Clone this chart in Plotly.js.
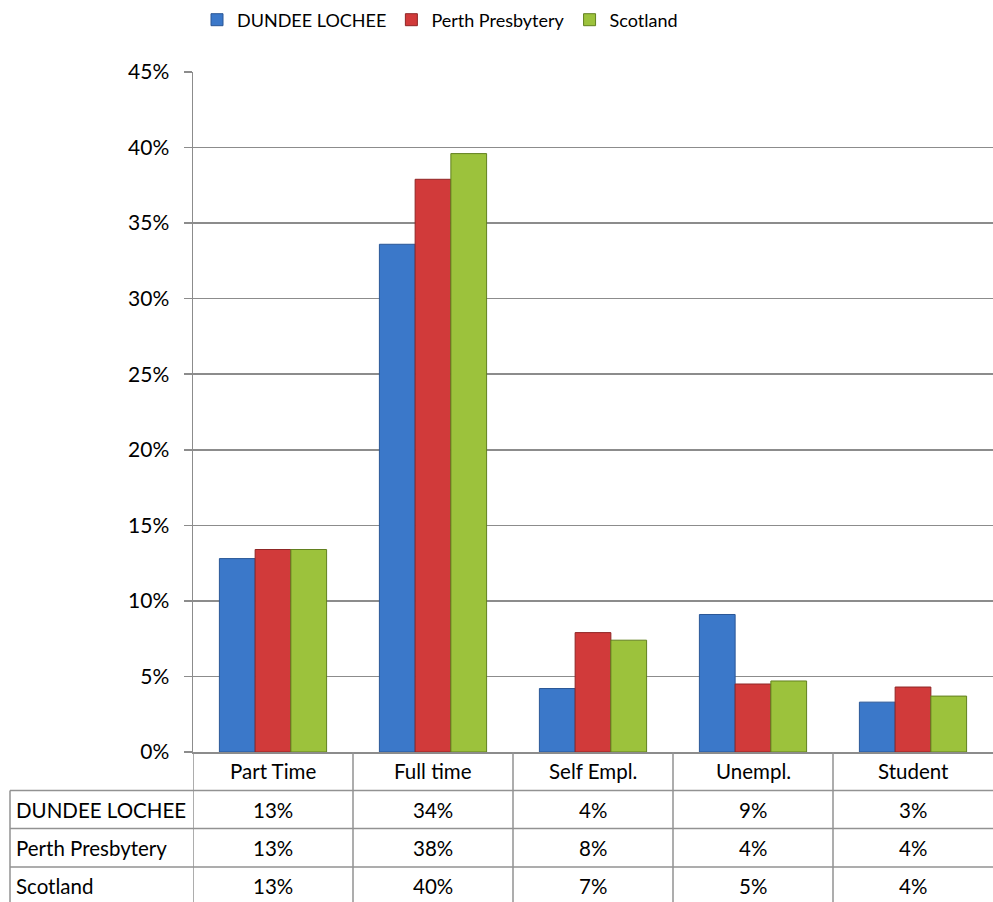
<!DOCTYPE html>
<html>
<head>
<meta charset="utf-8">
<script src="https://cdn.plot.ly/plotly-3.0.1.min.js"></script>
<style>html,body{margin:0;padding:0;background:#fff;}#chart{width:993px;height:902px;}</style>
</head>
<body>
<div id="chart"></div>
<script>
// ---- data ----
var categories = ["Part Time", "Full time", "Self Empl.", "Unempl.", "Student"];
var seriesNames = ["DUNDEE LOCHEE", "Perth Presbytery", "Scotland"];
var dundee = [12.8, 33.6, 4.2, 9.1, 3.3];
var perth = [13.4, 37.9, 7.9, 4.5, 4.3];
var scotland = [13.4, 39.6, 7.4, 4.7, 3.7];
var dundeeLabels = ["13%", "34%", "4%", "9%", "3%"];
var perthLabels = ["13%", "38%", "8%", "4%", "4%"];
var scotlandLabels = ["13%", "40%", "7%", "5%", "4%"];
var yTickVals = [0, 5, 10, 15, 20, 25, 30, 35, 40, 45];
var yTickText = ["0%", "5%", "10%", "15%", "20%", "25%", "30%", "35%", "40%", "45%"];

// ---- styling ----
var FONT = "Lato, 'Open Sans', sans-serif";
var TFS = 20.5;
var fillColors = ["#3b78c9", "#d13a3a", "#9cc23c"];
var edgeColors = ["#2a5796", "#8f2626", "#62801f"];
var gridColor = "#8c8c8c";
var W = 993, H = 902, ML = 193, MT = 72, MB = 150;
var plotH = H - MT - MB, plotW = W - ML;
function py(pix) { return (H - MB - pix) / plotH; }
function pxp(pix) { return (pix - ML) / plotW; }

var allVals = [dundee, perth, scotland];
var traces = allVals.map(function (v, i) {
  return {
    type: "bar", name: seriesNames[i], x: categories, y: v,
    marker: { color: fillColors[i], line: { color: edgeColors[i], width: 1 } },
    hoverinfo: "skip"
  };
});

// ---- data table under the chart ----
var rowLabelSets = [dundeeLabels, perthLabels, scotlandLabels];
var headerCenter = 771.5;
var rowCenters = [809.5, 848, 886];
var annotations = [];
categories.forEach(function (c, j) {
  annotations.push({ xref: "x", yref: "paper", x: j, y: py(headerCenter), text: c,
    showarrow: false, xanchor: "center", yanchor: "middle",
    font: { family: FONT, size: TFS, color: "#000" } });
});
rowLabelSets.forEach(function (labels, i) {
  annotations.push({ xref: "paper", yref: "paper", x: pxp(14), y: py(rowCenters[i]),
    text: seriesNames[i], showarrow: false, xanchor: "left", yanchor: "middle",
    font: { family: FONT, size: TFS, color: "#000" } });
  labels.forEach(function (t, j) {
    annotations.push({ xref: "x", yref: "paper", x: j, y: py(rowCenters[i]), text: t,
      showarrow: false, xanchor: "center", yanchor: "middle",
      font: { family: FONT, size: TFS, color: "#000" } });
  });
});

var lineStyle = { color: "#929292", width: 1.5 };
var shapes = [];
// horizontal table lines
[790.5, 828.5, 867].forEach(function (yy) {
  shapes.push({ type: "line", xref: "paper", yref: "paper", x0: pxp(10), x1: 1,
    y0: py(yy), y1: py(yy), line: lineStyle });
});
// left border of row-label column
shapes.push({ type: "line", xref: "paper", yref: "paper", x0: pxp(10), x1: pxp(10),
  y0: py(790.5), y1: py(H + 5), line: lineStyle });
// column separators
for (var k = 0; k <= categories.length - 1; k++) {
  shapes.push({ type: "line", xref: "x", yref: "paper", x0: k - 0.5, x1: k - 0.5,
    y0: 0, y1: py(H + 5), line: lineStyle });
}

var layout = {
  width: W, height: H,
  margin: { l: ML, r: 0, t: MT, b: MB, pad: 0 },
  paper_bgcolor: "#fff", plot_bgcolor: "#fff",
  barmode: "group", bargap: 0.33, bargroupgap: 0,
  showlegend: true,
  legend: { orientation: "h", x: pxp(440), xanchor: "center", y: py(20), yanchor: "middle",
    font: { family: FONT, size: 18, color: "#000" }, itemwidth: 30, tracegroupgap: 0 },
  xaxis: { type: "category", showticklabels: false, showgrid: false, zeroline: false,
    showline: true, linecolor: gridColor, linewidth: 1.5, ticks: "", range: [-0.5, 4.5] },
  yaxis: { range: [0, 45], tickvals: yTickVals, ticktext: yTickText,
    showgrid: true, gridcolor: gridColor, gridwidth: 1.5, zeroline: false,
    showline: true, linecolor: gridColor, linewidth: 1.5,
    ticks: "outside", ticklen: 8, tickcolor: gridColor, tickwidth: 1.5,
    ticklabelstandoff: 10,
    tickfont: { family: FONT, size: 21, color: "#000" } },
  annotations: annotations,
  shapes: shapes
};

Plotly.newPlot("chart", traces, layout, { displayModeBar: false, staticPlot: true });
</script>
</body>
</html>
